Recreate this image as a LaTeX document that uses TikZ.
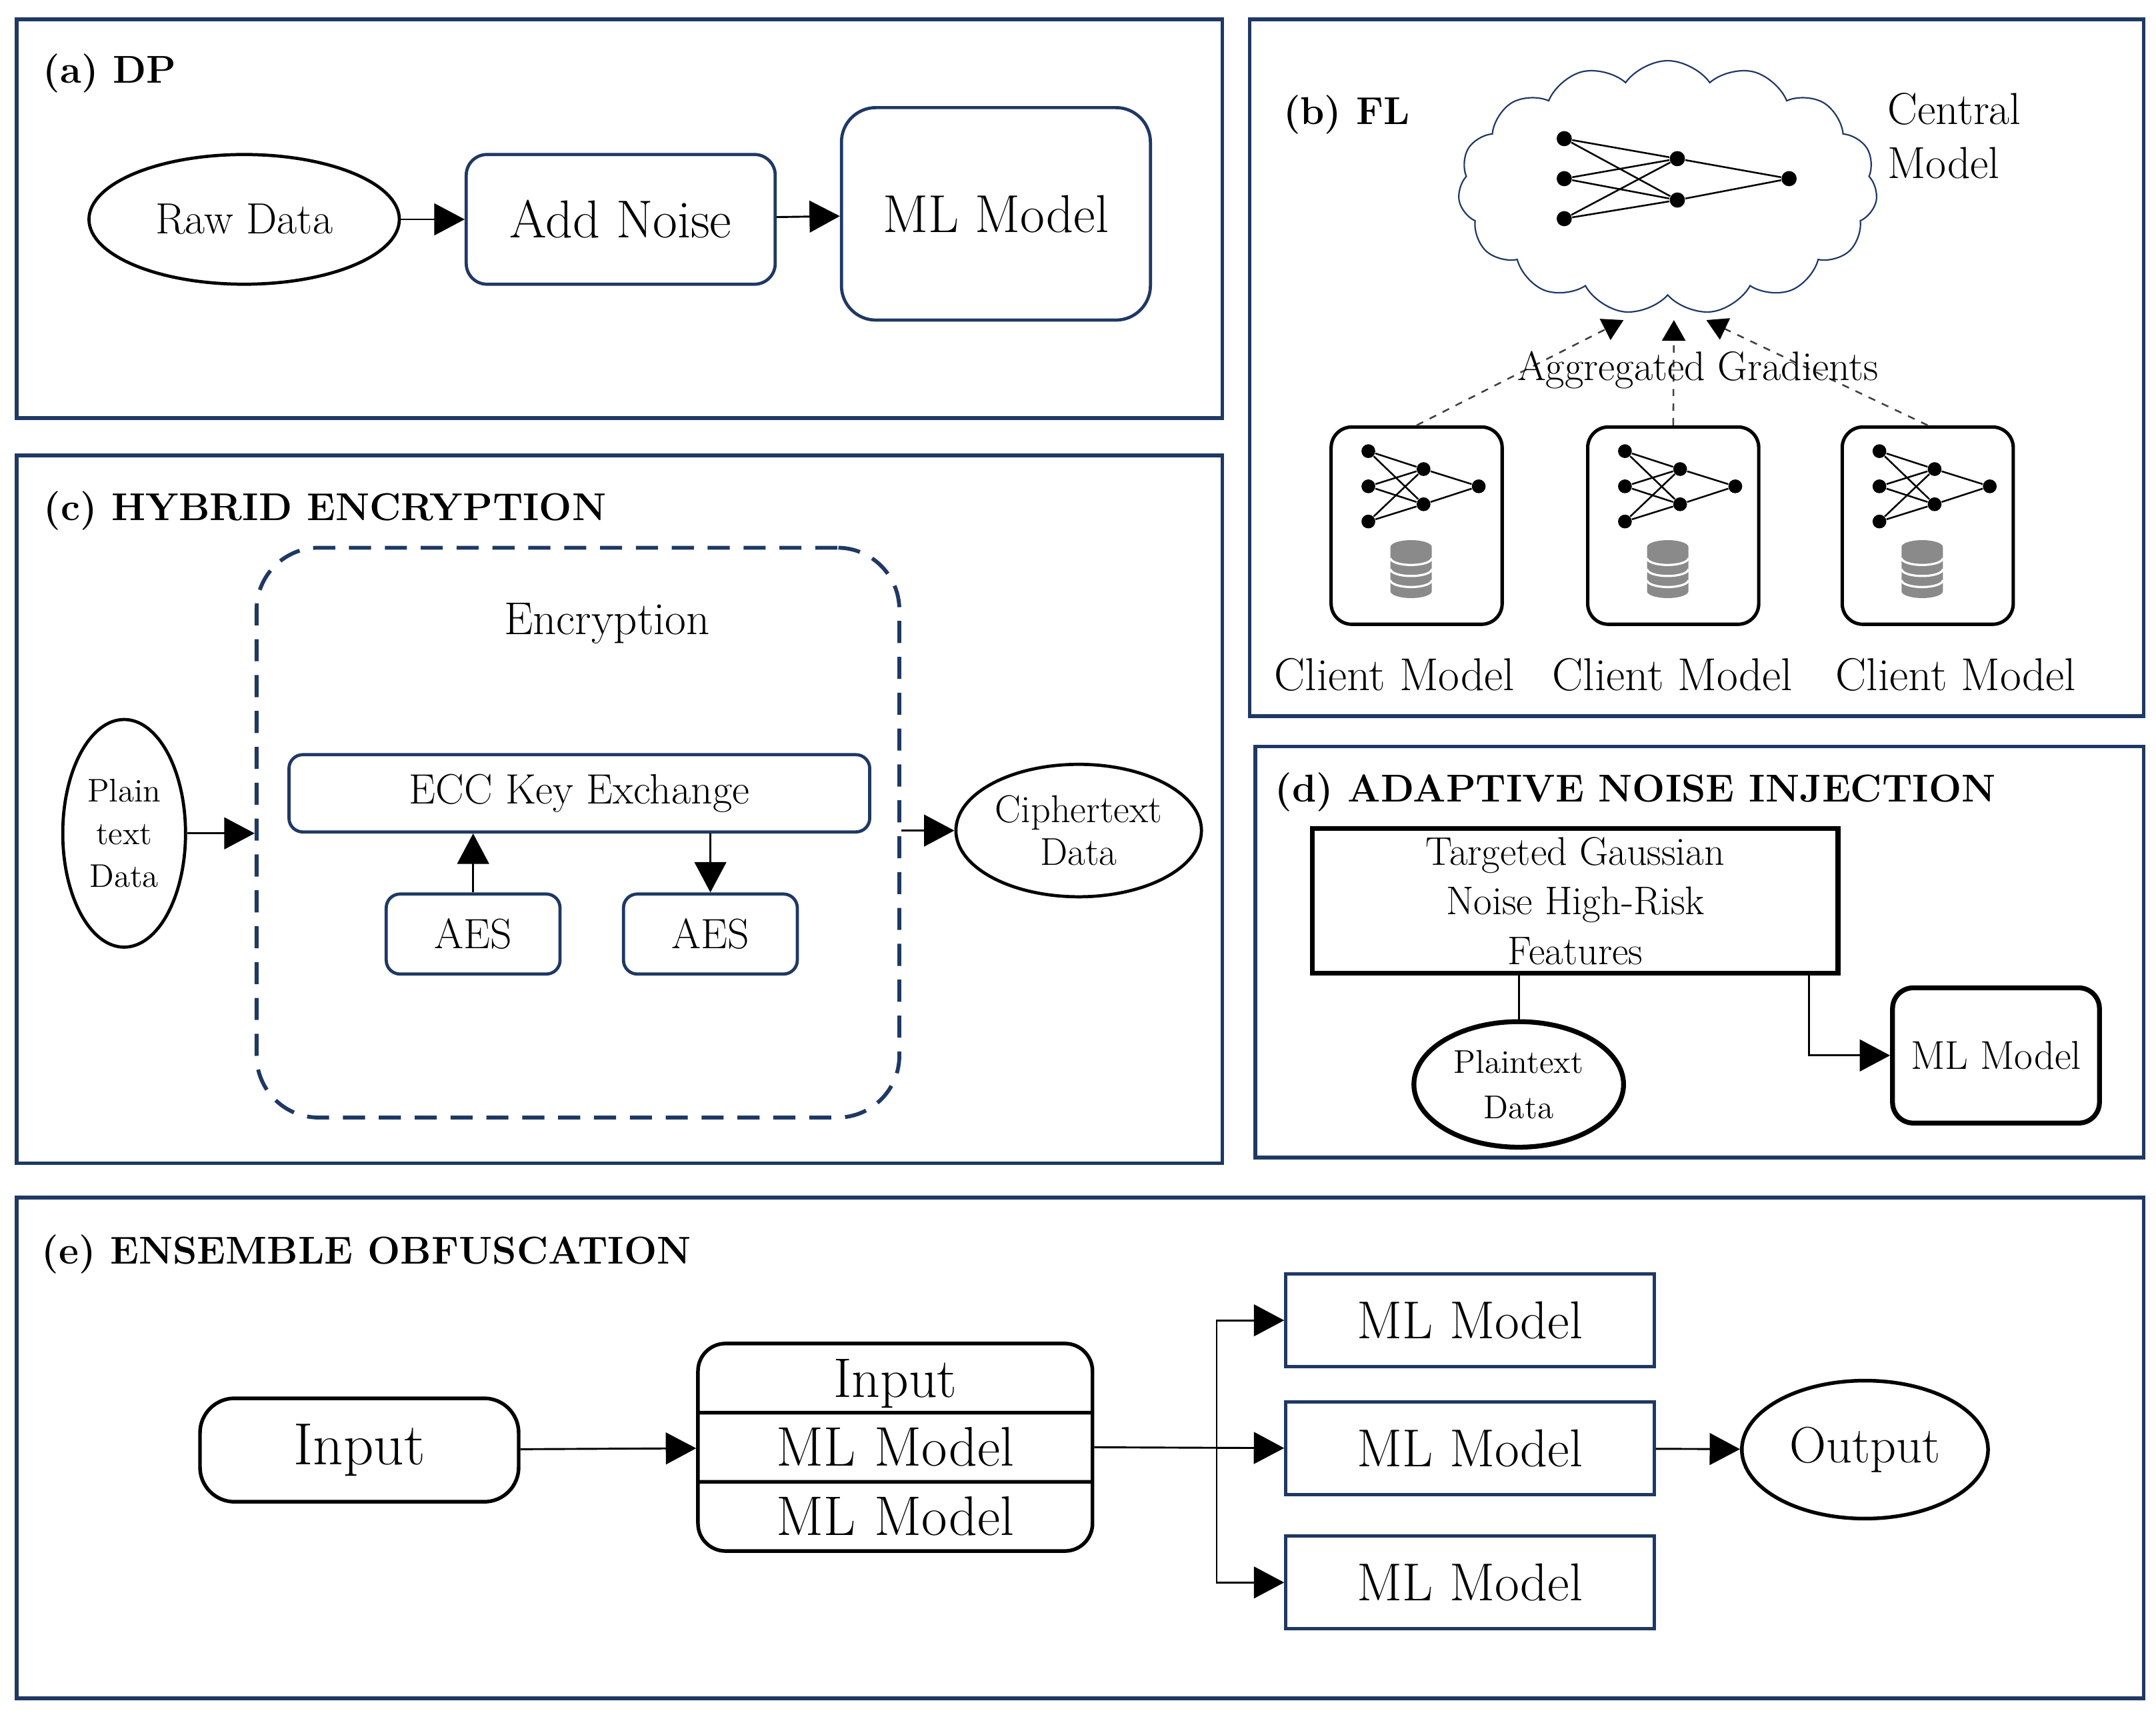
\documentclass[tikz,border=0pt]{standalone}
\usepackage{fontspec}
\usetikzlibrary{shapes.geometric,shapes.symbols,shapes.multipart,arrows.meta}
\definecolor{navy}{HTML}{1F3864}
\definecolor{dbgray}{HTML}{8A8A8A}
\newcommand{\fsize}[2]{\fontsize{#1}{#2}\selectfont}
\begin{document}
\begin{tikzpicture}[x=0.2mm,y=-0.2mm]
    \tikzset{panel/.style = {draw=navy,line width=1.5pt}}
    \tikzset{heading/.style = {anchor=base west,inner sep=0pt,font=\fsize{16}{19}\bfseries}}
    \tikzset{navybox/.style = {draw=navy,line width=1.3pt,rounded corners=3mm,inner sep=0pt,align=center}}
    \tikzset{blackoval/.style = {ellipse,draw,line width=1.3pt,inner sep=0pt,align=center}}
    \tikzset{client/.style = {draw,line width=1.4pt,rounded corners=3mm,minimum width=24.8mm,minimum height=28.6mm}}
    \tikzset{neuron/.style = {circle,fill,inner sep=0pt,minimum size=2mm}}
    \tikzset{syn/.style = {line width=0.7pt}}
    \tikzset{flow/.style = {line width=0.8pt,-{Triangle[length=4.4mm,width=4.6mm]}}}
    \tikzset{grad/.style = {dashed,line width=0.7pt,draw=black!75,-{Triangle[length=3mm,width=3.4mm,color=black]}}}
    \tikzset{dbstack/.pic = {
        \fill[dbgray] (-15,-16) -- (-15,16) arc[start angle=180,end angle=0,x radius=15,y radius=5]
            -- (15,-16) arc[start angle=0,end angle=-180,x radius=15,y radius=5] -- cycle;
        \foreach \s in {-8,0,8}
            \draw[white,line width=0.9pt] (-15,\s) arc[start angle=180,end angle=0,x radius=15,y radius=5];
    }}
    \useasboundingbox (0,0) rectangle (1563,1244.5);
    % panel frames
    \draw[panel] (12,14) rectangle (886,303);
    \draw[panel] (906,14) rectangle (1554,519);
    \draw[panel] (12,330) rectangle (886,843);
    \draw[panel] (910,541) rectangle (1554,839);
    \draw[panel] (12,868) rectangle (1554,1231);
    % (a) DP
    \node[heading] (ta) at (31,60) {(a) DP};
    \node[blackoval,minimum width=45mm,minimum height=18.8mm,font=\fsize{18}{21}] (raw) at (177,159) {Raw Data};
    \node[navybox,minimum width=44.8mm,minimum height=18.8mm,font=\fsize{22}{26}] (noise) at (450,159) {Add Noise};
    \node[navybox,rounded corners=5mm,minimum width=44.8mm,minimum height=30.8mm,font=\fsize{22}{26}] (mla) at (722,155) {ML Model};
    \draw[flow] (raw) -- (noise);
    \draw[flow] (noise) -- (mla);
    % (b) FL
    \node[heading] (tb) at (930,90) {(b) FL};
    \node[cloud,draw=navy,line width=0.6pt,cloud puffs=15,cloud puff arc=110,aspect=1.6,
          minimum width=60.8mm,minimum height=36.8mm,inner sep=0pt] (cloud) at (1209,136) {};
    \foreach \i/\y in {1/100.5,2/129.5,3/158.5}
        \node[neuron,minimum size=2.2mm] (ci\i) at (1134,\y) {};
    \foreach \j/\y in {1/115,2/145}
        \node[neuron,minimum size=2.2mm] (ch\j) at (1216,\y) {};
    \node[neuron,minimum size=2.2mm] (co) at (1297,129.5) {};
    \foreach \i in {1,2,3} \foreach \j in {1,2} \draw[syn] (ci\i) -- (ch\j);
    \foreach \j in {1,2} \draw[syn] (ch\j) -- (co);
    \node[anchor=west,align=left,inner sep=0pt,font=\fsize{18.5}{22.5}] (cm) at (1368,98.5) {Central\\Model};
    % client models
    \foreach \k/\cx in {1/1027,2/1213,3/1397.5}{
        \node[client] (cl\k) at (\cx,381) {};
        \foreach \i/\dy in {1/-54,2/-28.5,3/-3}
            \node[neuron] (ki\k\i) at ({\cx-35},{381+\dy}) {};
        \foreach \j/\dy in {1/-41,2/-15.5}
            \node[neuron] (kh\k\j) at ({\cx+5},{381+\dy}) {};
        \node[neuron] (ko\k) at ({\cx+45},352.5) {};
        \foreach \i in {1,2,3} \foreach \j in {1,2} \draw[syn] (ki\k\i) -- (kh\k\j);
        \foreach \j in {1,2} \draw[syn] (kh\k\j) -- (ko\k);
        \pic at ({\cx-4},412.5) {dbstack};
    }
    \node[inner sep=0pt,font=\fsize{19}{22}] (cn1) at (1011,489) {Client Model};
    \node[inner sep=0pt,font=\fsize{19}{22}] (cn2) at (1212.6,489) {Client Model};
    \node[inner sep=0pt,font=\fsize{19}{22}] (cn3) at (1418,489) {Client Model};
    \coordinate (g1) at (1177,232);
    \coordinate (g2) at (1213.5,232);
    \coordinate (g3) at (1237,232);
    \draw[grad] (cl1.north) -- (g1);
    \draw[grad] (cl2.north) -- (g2);
    \draw[grad] (cl3.north) -- (g3);
    \node[inner sep=0pt,font=\fsize{17}{20}] (ag) at (1231,268) {Aggregated Gradients};
    % (c) hybrid encryption
    \node[heading] (tc) at (31.5,377) {(c) HYBRID ENCRYPTION};
    \node[draw=navy,line width=1.6pt,dash pattern=on 3.2mm off 2mm,rounded corners=9mm,
          minimum width=93.2mm,minimum height=82.6mm] (enc) at (419,603.5) {};
    \node[inner sep=0pt,font=\fsize{19}{22}] (enct) at (440,452) {Encryption};
    \node[navybox,rounded corners=2mm,minimum width=84.2mm,minimum height=11.2mm,font=\fsize{17.5}{21}] (ecc) at (420,575) {ECC Key Exchange};
    \node[navybox,rounded corners=2mm,minimum width=25.2mm,minimum height=11.6mm,font=\fsize{17.5}{21}] (aes1) at (343,677) {AES};
    \node[navybox,rounded corners=2mm,minimum width=25.2mm,minimum height=11.6mm,font=\fsize{17.5}{21}] (aes2) at (515,677) {AES};
    \draw[flow] (aes1) -- (aes1 |- ecc.south);
    \draw[flow] (aes2 |- ecc.south) -- (aes2);
    \node[blackoval,minimum width=17.8mm,minimum height=33mm,font=\fsize{13.5}{17.5}] (plain) at (90,604) {Plain\\text\\Data};
    \node[blackoval,minimum width=35.6mm,minimum height=19.2mm,font=\fsize{16}{17.5}] (cipher) at (782,602) {Ciphertext\\Data};
    \draw[flow] (plain) -- (plain -| enc.west);
    \draw[flow] (enc.east |- cipher) -- (cipher);
    % (d) adaptive noise injection
    \node[heading] (td) at (924,581) {(d) ADAPTIVE NOISE INJECTION};
    \node[draw,line width=2pt,minimum width=76.2mm,minimum height=21mm,align=center,inner sep=0pt,
          font=\fsize{16.5}{20.4}] (tgn) at (1142,653) {Targeted Gaussian\\Noise High-Risk\\Features};
    \node[blackoval,line width=2pt,minimum width=30.4mm,minimum height=18.2mm,font=\fsize{13.6}{18.7}] (ptd) at (1101,786) {Plaintext\\Data};
    \node[draw,line width=2pt,rounded corners=3mm,minimum width=30mm,minimum height=19.6mm,inner sep=0pt,
          font=\fsize{16.6}{20}] (mld) at (1447,765) {ML Model};
    \draw[line width=0.8pt] (tgn.south -| ptd.north) -- (ptd.north);
    \draw[flow] ([xshift=-4.6mm]tgn.south east) |- (mld.west);
    % (e) ensemble obfuscation
    \node[heading] (te) at (30,916) {(e) ENSEMBLE OBFUSCATION};
    \node[draw,line width=1.5pt,rounded corners=5mm,minimum width=46.2mm,minimum height=15mm,inner sep=0pt,
          font=\fsize{24.5}{28}] (inp) at (260.5,1051) {Input};
    \node[rectangle split,rectangle split parts=3,draw,line width=1.5pt,rounded corners=4mm,
          inner xsep=0pt,inner ysep=0pt,text width=57.2mm,align=center,font=\fsize{23}{26}] (stk) at (649,1049)
          {\rule[-2mm]{0pt}{9.5mm}Input\nodepart{two}\rule[-2mm]{0pt}{9.5mm}ML Model\nodepart{three}\rule[-2mm]{0pt}{9.5mm}ML Model};
    \foreach \k/\y in {1/957,2/1049.6,3/1147}
        \node[draw=navy,line width=1.4pt,minimum width=53.4mm,minimum height=13.4mm,inner sep=0pt,
              font=\fsize{22}{26}] (me\k) at (1065.7,\y) {ML Model};
    \node[blackoval,line width=1.5pt,minimum width=35.7mm,minimum height=20mm,font=\fsize{21}{25}] (out) at (1352,1050.7) {Output};
    \coordinate (bus) at (882,1049.6);
    \draw[flow] (inp) -- (stk);
    \draw[flow] (stk.east) -- (me2.west);
    \draw[flow] (bus) |- (me1.west);
    \draw[flow] (bus) |- (me3.west);
    \draw[flow] (me2) -- (out);
\end{tikzpicture}
\end{document}
